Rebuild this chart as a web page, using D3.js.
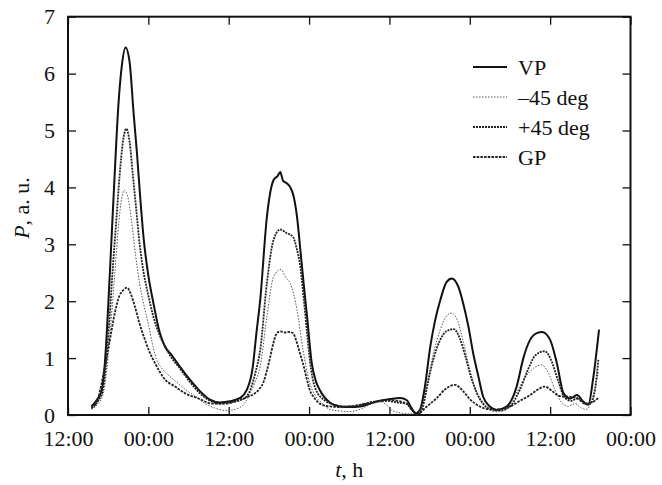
<!DOCTYPE html>
<html lang="en">
<head>
<meta charset="UTF-8">
<title>P vs t</title>
<script src="https://d3js.org/d3.v7.min.js"></script>
<style>
  body { margin: 0; background: #fff; }
  svg text { font-family: "Liberation Serif", Tinos, "Times New Roman", "DejaVu Serif", serif; fill: #111; }
</style>
</head>
<body>
<div id="chart"></div>
<script>
// time in hours from the first 12:00 mark, power in a.u.
const tickHours = [0, 12, 24, 36, 48, 60, 72, 84];
const tickLabels = ["12:00", "00:00", "12:00", "00:00", "12:00", "00:00", "12:00", "00:00"];
const yTicks = [0, 1, 2, 3, 4, 5, 6, 7];

const vp = [
  [3.5,0.15],[4.4,0.28],[5.0,0.42],[5.5,0.9],[6.0,1.9],[6.5,3.1],[7.0,4.3],[7.5,5.4],[8.0,6.1],[8.6,6.46],
  [9.2,6.2],[9.8,5.3],[10.3,4.6],[10.8,3.8],[11.3,3.1],[12.0,2.45],[12.7,2.0],[13.7,1.45],[14.5,1.2],[15.5,1.05],
  [16.7,0.85],[18.2,0.62],[19.7,0.42],[21.2,0.27],[22.7,0.22],[24.2,0.24],[25.7,0.3],[26.7,0.44],[27.6,0.85],[28.1,1.4],
  [28.7,2.02],[29.7,3.48],[30.7,4.13],[31.3,4.2],[31.7,4.27],[32.1,4.12],[32.7,4.07],[33.2,4.0],[33.7,3.84],[34.2,3.48],
  [34.7,2.9],[35.2,2.3],[35.7,1.73],[36.4,0.91],[37.0,0.6],[37.6,0.44],[39.1,0.22],[40.6,0.15],[42.1,0.14],[43.6,0.15],
  [45.1,0.2],[46.6,0.25],[48.1,0.28],[49.6,0.3],[50.6,0.26],[51.3,0.12],[52.0,0.03],[52.6,0.1],[53.3,0.5],[54.1,1.2],
  [54.8,1.65],[55.6,2.02],[56.5,2.33],[57.3,2.4],[58.3,2.25],[59.0,1.97],[59.8,1.55],[60.5,1.09],[61.3,0.67],[62.0,0.32],
  [63.0,0.15],[64.0,0.09],[65.5,0.15],[67.0,0.5],[68.0,1.0],[69.0,1.32],[70.0,1.44],[70.8,1.46],[72.0,1.32],[73.0,0.91],
  [74.0,0.38],[75.0,0.29],[76.0,0.35],[77.0,0.23],[77.7,0.18],[78.4,0.62],[79.3,1.5]
];

const minus45 = [
  [3.5,0.1],[4.5,0.2],[5.2,0.35],[5.8,0.8],[6.4,1.6],[7.0,2.5],[7.6,3.4],[8.0,3.8],[8.4,3.95],[8.9,3.85],
  [9.5,3.4],[10.1,2.8],[10.7,2.3],[11.3,1.95],[12.0,1.6],[12.7,1.2],[13.3,0.95],[14.0,0.82],[14.8,0.72],[16.0,0.6],
  [17.5,0.45],[19.0,0.33],[20.5,0.2],[22.0,0.12],[23.5,0.08],[25.0,0.1],[26.3,0.2],[27.3,0.4],[28.0,0.6],[28.7,0.85],
  [29.7,1.73],[30.7,2.43],[31.8,2.56],[32.5,2.42],[33.2,2.31],[34.2,1.85],[35.1,1.14],[36.1,0.56],[36.9,0.35],[38.0,0.2],
  [39.1,0.1],[40.6,0.07],[42.1,0.06],[43.6,0.1],[45.1,0.18],[46.6,0.23],[47.6,0.18],[48.4,0.08],[49.6,0.04],[51.0,0.02],
  [52.0,0.02],[53.0,0.2],[53.8,0.65],[54.6,1.1],[55.6,1.5],[56.6,1.75],[57.3,1.79],[58.2,1.65],[59.0,1.3],[59.8,0.9],
  [60.7,0.5],[61.6,0.25],[62.6,0.12],[63.6,0.06],[64.6,0.06],[65.8,0.15],[67.0,0.4],[68.2,0.65],[69.5,0.82],[70.7,0.88],
  [71.7,0.75],[72.7,0.45],[73.7,0.22],[74.7,0.15],[75.7,0.2],[76.7,0.12],[77.5,0.1],[78.3,0.3],[79.2,0.75]
];

const plus45 = [
  [3.5,0.12],[4.5,0.25],[5.1,0.4],[5.6,0.8],[6.2,1.7],[6.7,2.6],[7.2,3.4],[7.7,4.2],[8.2,4.8],[8.7,5.03],
  [9.2,4.8],[9.7,4.2],[10.2,3.6],[10.7,3.0],[11.3,2.5],[12.0,2.1],[12.7,1.75],[13.7,1.4],[14.5,1.2],[15.5,1.0],
  [16.7,0.82],[18.2,0.58],[19.7,0.38],[21.2,0.25],[22.7,0.2],[24.2,0.22],[25.7,0.26],[26.7,0.33],[27.4,0.5],[28.0,0.75],
  [28.7,1.14],[29.7,2.32],[30.7,3.08],[31.7,3.26],[32.6,3.2],[33.6,3.13],[34.1,2.95],[34.7,2.6],[35.2,2.05],[35.7,1.44],
  [36.3,0.8],[37.0,0.45],[38.4,0.25],[39.8,0.18],[41.3,0.15],[43.0,0.16],[44.6,0.2],[46.1,0.24],[47.6,0.25],[49.1,0.22],
  [50.5,0.2],[51.4,0.08],[52.2,0.0],[53.0,0.15],[53.8,0.6],[54.6,1.0],[55.5,1.3],[56.5,1.47],[57.6,1.51],[58.5,1.35],
  [59.3,1.05],[60.1,0.7],[61.0,0.4],[62.0,0.2],[63.2,0.1],[64.5,0.08],[66.0,0.15],[67.5,0.45],[68.7,0.8],[69.8,1.05],
  [71.2,1.12],[72.2,0.95],[73.2,0.6],[74.2,0.3],[75.2,0.25],[76.2,0.3],[77.2,0.2],[78.0,0.2],[78.7,0.45],[79.2,0.97]
];

const gp = [
  [3.5,0.12],[4.5,0.3],[5.5,0.85],[6.3,1.35],[7.0,1.8],[7.7,2.1],[8.3,2.2],[8.8,2.24],[9.4,2.12],[10.0,1.9],
  [10.7,1.6],[11.5,1.32],[12.2,1.1],[13.0,0.91],[14.5,0.62],[16.0,0.5],[17.5,0.38],[19.5,0.29],[21.5,0.2],[23.5,0.2],
  [25.4,0.26],[26.9,0.32],[27.9,0.38],[28.6,0.46],[29.2,0.58],[29.7,0.78],[30.2,1.02],[30.7,1.28],[31.2,1.44],[31.7,1.47],
  [32.4,1.45],[33.0,1.46],[33.6,1.44],[34.1,1.3],[34.6,1.1],[35.1,0.9],[35.6,0.66],[36.1,0.44],[36.8,0.3],[37.6,0.2],
  [39.1,0.15],[40.6,0.14],[42.1,0.15],[43.6,0.18],[45.1,0.22],[46.6,0.25],[48.1,0.26],[49.6,0.24],[50.8,0.18],[51.6,0.06],
  [52.3,0.02],[53.3,0.12],[54.3,0.22],[55.1,0.3],[56.3,0.45],[57.8,0.53],[59.0,0.42],[60.0,0.28],[61.5,0.15],[63.0,0.1],
  [64.5,0.1],[66.0,0.15],[67.5,0.25],[69.0,0.35],[70.2,0.45],[71.2,0.5],[72.3,0.42],[73.5,0.33],[75.0,0.32],[76.2,0.28],
  [77.2,0.2],[78.2,0.22],[79.2,0.3]
];

const series = [
  { name: "VP",      data: vp,      width: 2.0, dash: null,    color: "#111" },
  { name: "\u201345 deg", data: minus45, width: 1.0, dash: "1.5,1.5", color: "#555" },
  { name: "+45 deg", data: plus45,  width: 1.8, dash: "2,1",   color: "#222" },
  { name: "GP",      data: gp,      width: 1.8, dash: "2.5,1.2", color: "#222" }
];

const W = 662, H = 485;
const margin = { top: 16.7, right: 31.5, bottom: 70, left: 68 };
const iw = W - margin.left - margin.right;
const ih = H - margin.top - margin.bottom;
const FONT = '"Liberation Serif", Tinos, "Times New Roman", "DejaVu Serif", serif';

const svg = d3.select("#chart").append("svg")
  .attr("width", W)
  .attr("height", H)
  .style("font-family", FONT);

const g = svg.append("g").attr("transform", `translate(${margin.left},${margin.top})`);

const x = d3.scaleLinear().domain([0, 84]).range([0, iw]);
const y = d3.scaleLinear().domain([0, 7]).range([ih, 0]);

// axes with inward ticks
const xAxis = g.append("g")
  .attr("transform", `translate(0,${ih})`)
  .call(d3.axisBottom(x).tickValues(tickHours).tickSizeInner(-8).tickSizeOuter(0).tickPadding(15)
    .tickFormat((d, i) => tickLabels[i]));
const xTop = g.append("g")
  .call(d3.axisTop(x).tickValues(tickHours).tickSizeInner(-8).tickSizeOuter(0).tickFormat(""));
const yAxis = g.append("g")
  .call(d3.axisLeft(y).tickValues(yTicks).tickSizeInner(-8).tickSizeOuter(0).tickPadding(13)
    .tickFormat(d3.format("d")));
const yRight = g.append("g")
  .attr("transform", `translate(${iw},0)`)
  .call(d3.axisRight(y).tickValues(yTicks).tickSizeInner(-8).tickSizeOuter(0).tickFormat(""));

[xAxis, xTop, yAxis, yRight].forEach(a => {
  a.attr("font-family", null).attr("font-size", null);
  a.select(".domain").remove();
  a.selectAll(".tick line").attr("stroke", "#111").attr("stroke-width", 1.3);
  a.selectAll(".tick text").style("font-size", "22px").style("font-family", FONT).attr("fill", "#111");
});

g.append("rect")
  .attr("x", 0).attr("y", 0)
  .attr("width", iw).attr("height", ih)
  .attr("fill", "none")
  .attr("stroke", "#111")
  .attr("stroke-width", 2);

const line = d3.line()
  .x(d => x(d[0]))
  .y(d => y(d[1]))
  .curve(d3.curveMonotoneX);

g.append("g").selectAll("path")
  .data(series)
  .enter().append("path")
  .attr("d", d => line(d.data))
  .attr("fill", "none")
  .attr("stroke", d => d.color)
  .attr("stroke-width", d => d.width)
  .attr("stroke-dasharray", d => d.dash)
  .attr("stroke-linejoin", "round");

// legend
const legend = svg.append("g").attr("transform", "translate(473,67)");
const rows = legend.selectAll("g")
  .data(series)
  .enter().append("g")
  .attr("transform", (d, i) => `translate(0,${i * 30})`);
rows.append("line")
  .attr("x1", 0).attr("x2", 34)
  .attr("y1", 0).attr("y2", 0)
  .attr("stroke", d => d.color)
  .attr("stroke-width", d => d.width)
  .attr("stroke-dasharray", d => d.dash);
rows.append("text")
  .attr("x", 45).attr("y", 0).attr("dy", "0.35em")
  .style("font-size", "22px")
  .text(d => d.name);

// axis titles
const xt = svg.append("text")
  .attr("x", margin.left + x(42)).attr("y", 477)
  .attr("text-anchor", "middle").style("font-size", "22px");
xt.append("tspan").attr("font-style", "italic").text("t");
xt.append("tspan").text(", h");

const yt = svg.append("text")
  .attr("transform", "translate(29,208) rotate(-90)")
  .attr("text-anchor", "middle").style("font-size", "22px");
yt.append("tspan").attr("font-style", "italic").text("P");
yt.append("tspan").text(", a. u.");
</script>
</body>
</html>
